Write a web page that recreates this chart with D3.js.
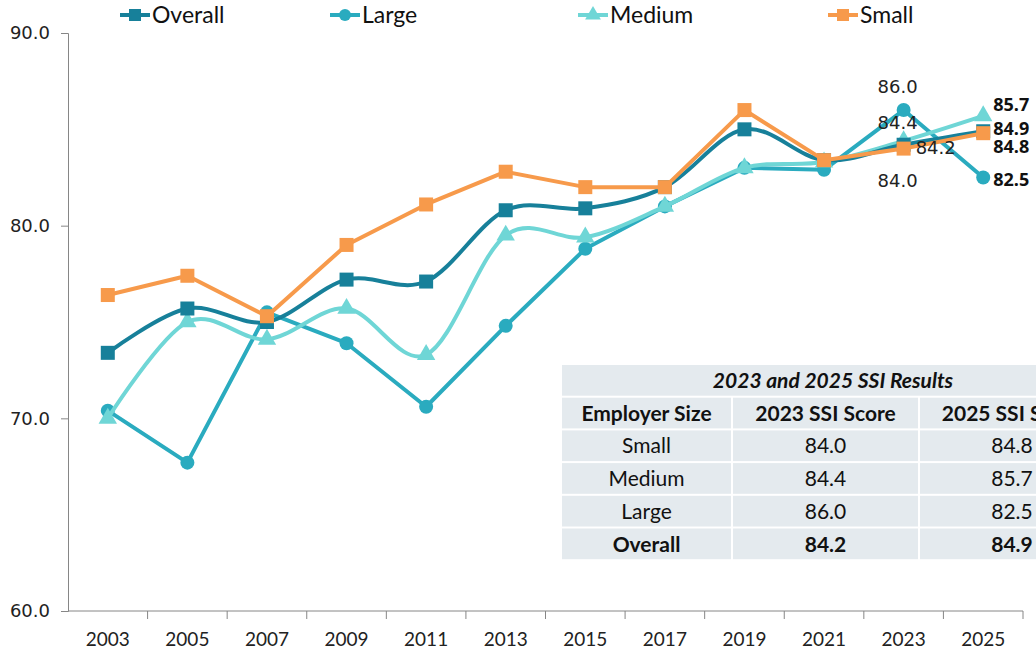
<!DOCTYPE html>
<html>
<head>
<meta charset="utf-8">
<script src="https://cdn.jsdelivr.net/npm/d3@7"></script>
<style>
  body { margin: 0; background: #fff; }
  svg { display: block; }
  .num { font-family: "DejaVu Sans", "Open Sans", sans-serif; }
  .numb { font-family: "Open Sans", "DejaVu Sans", sans-serif; }
  .narrow { font-family: "Lato", "Roboto", sans-serif; }
</style>
</head>
<body>
<svg id="chart" width="1036" height="654"></svg>
<script>
// data
var years = ["2003","2005","2007","2009","2011","2013","2015","2017","2019","2021","2023","2025"];
var overall = [73.4, 75.7, 75.0, 77.2, 77.1, 80.8, 80.9, 82.0, 85.0, 83.4, 84.2, 84.9];
var large   = [70.4, 67.7, 75.5, 73.9, 70.6, 74.8, 78.8, 81.0, 83.0, 82.9, 86.0, 82.5];
var medium  = [70.0, 75.0, 74.1, 75.7, 73.3, 79.5, 79.4, 81.0, 83.0, 83.3, 84.4, 85.7];
var small   = [76.4, 77.4, 75.3, 79.0, 81.1, 82.8, 82.0, 82.0, 86.0, 83.4, 84.0, 84.8];
var yTicks = [60, 70, 80, 90];

var tableTitle = "2023 and 2025 SSI Results";
var tableHead = ["Employer Size", "2023 SSI Score", "2025 SSI Score"];
var tableRows = [["Small","84.0","84.8"],["Medium","84.4","85.7"],["Large","86.0","82.5"],["Overall","84.2","84.9"]];

var series = [
  {name:"Overall", vals:overall, color:"#17809a", shape:"square", smooth:true,
   lab23:[12, 9, "start"], lab25:[10, 4]},
  {name:"Large", vals:large, color:"#2aabbf", shape:"circle", smooth:false,
   lab23:[-6, -17, "middle"], lab25:[10, 8]},
  {name:"Medium", vals:medium, color:"#6fd6d6", shape:"triangle", smooth:true,
   lab23:[-6, -12, "middle"], lab25:[10, -5]},
  {name:"Small", vals:small, color:"#f79a4b", shape:"square", smooth:false,
   lab23:[-6, 38, "middle"], lab25:[10, 20]}
];

var svg = d3.select("#chart");
var plotL = 68, plotR = 1023, plotT = 33, plotB = 611;

var x = d3.scalePoint().domain(years).range([plotL, plotR]).padding(0.5);
var xb = d3.scaleBand().domain(years).range([plotL, plotR]);
var y = d3.scaleLinear().domain([60, 90]).range([plotB, plotT]);

// axes
var yAxis = svg.append("g").attr("transform", "translate(" + plotL + ",0)")
  .call(d3.axisLeft(y).tickValues(yTicks).tickFormat(d3.format(".1f")).tickSizeOuter(0).tickSize(7).tickPadding(11));
yAxis.select(".domain").attr("stroke", "#868686");
yAxis.selectAll(".tick line").attr("stroke", "#868686");
yAxis.selectAll("text").attr("class", "num").attr("font-size", 18).attr("fill", "#222");

var xAxis = svg.append("g").attr("transform", "translate(0," + plotB + ")");
xAxis.append("line").attr("x1", plotL).attr("x2", plotR).attr("stroke", "#868686");
xAxis.selectAll("line.tk").data(years).enter().append("line").attr("class", "tk")
  .attr("x1", function(d){ return xb(d) + xb.bandwidth(); })
  .attr("x2", function(d){ return xb(d) + xb.bandwidth(); })
  .attr("y1", 0).attr("y2", 8).attr("stroke", "#868686");
xAxis.selectAll("text").data(years).enter().append("text")
  .attr("class", "narrow").attr("x", function(d){ return x(d); }).attr("y", 35)
  .attr("text-anchor", "middle").attr("font-size", 19).attr("fill", "#222").text(function(d){ return d; });

// lines and markers
function marker(g, shape, color, size) {
  if (shape === "circle") g.append("circle").attr("r", size / 2).attr("fill", color);
  else if (shape === "square") g.append("rect").attr("x", -size/2).attr("y", -size/2).attr("width", size).attr("height", size).attr("fill", color);
  else g.append("path").attr("d", d3.symbol().type(d3.symbolTriangle).size(size * size * 0.75)()).attr("fill", color);
}

var drawOrder = [1, 2, 0, 3];
drawOrder.forEach(function(k) {
  var s = series[k];
  var line = d3.line()
    .x(function(d, i){ return x(years[i]); })
    .y(function(d){ return y(d); })
    .curve(s.smooth ? d3.curveCatmullRom.alpha(0) : d3.curveLinear);
  svg.append("path").datum(s.vals).attr("d", line)
    .attr("fill", "none").attr("stroke", s.color).attr("stroke-width", 4).attr("stroke-linejoin", "round");
  s.vals.forEach(function(v, i) {
    var g = svg.append("g").attr("transform", "translate(" + x(years[i]) + "," + y(v) + ")");
    marker(g, s.shape, s.color, 14);
  });
});

// value labels for 2023 and 2025
series.forEach(function(s) {
  var v23 = s.vals[10], v25 = s.vals[11];
  svg.append("text").attr("class", "num")
    .attr("x", x("2023") + s.lab23[0]).attr("y", y(v23) + s.lab23[1])
    .attr("text-anchor", s.lab23[2]).attr("font-size", 18).attr("fill", "#222")
    .text(d3.format(".1f")(v23));
  svg.append("text").attr("class", "numb")
    .attr("x", x("2025") + s.lab25[0]).attr("y", y(v25) + s.lab25[1])
    .attr("font-size", 18).attr("font-weight", "bold").attr("fill", "#111")
    .text(d3.format(".1f")(v25));
});

// legend
var legX = [120, 330, 578, 828];
series.forEach(function(s, i) {
  var g = svg.append("g").attr("transform", "translate(" + legX[i] + ",15)");
  g.append("line").attr("x1", 0).attr("x2", 30).attr("stroke", s.color).attr("stroke-width", 4);
  var m = g.append("g").attr("transform", "translate(15,0)");
  marker(m, s.shape, s.color, 12);
  g.append("text").attr("class", "narrow").attr("x", 32).attr("y", 8)
    .attr("font-size", 23).attr("fill", "#111").text(s.name);
});

// table
var tx = 562, ty = 365, rowH = 32.7;
var colX = [562, 733, 920], colW = [169, 185, 184];
var tbl = svg.append("g").attr("class", "narrow");
tbl.append("rect").attr("x", tx).attr("y", ty).attr("width", 1036 - tx).attr("height", rowH - 2).attr("fill", "#e4eaee");
tbl.append("text").attr("x", 833).attr("y", ty + 23)
  .attr("text-anchor", "middle").attr("font-size", 21).attr("font-weight", "bold").attr("font-style", "italic")
  .attr("fill", "#111").text(tableTitle);
var allRows = [tableHead].concat(tableRows);
allRows.forEach(function(r, ri) {
  var ry = ty + rowH * (ri + 1);
  var bold = ri === 0 || r[0] === "Overall";
  r.forEach(function(c, ci) {
    tbl.append("rect").attr("x", colX[ci]).attr("y", ry).attr("width", colW[ci]).attr("height", rowH - 2).attr("fill", "#e4eaee");
    tbl.append("text").attr("x", colX[ci] + colW[ci] / 2).attr("y", ry + 23)
      .attr("text-anchor", "middle").attr("font-size", 21).attr("font-weight", bold ? "bold" : "normal")
      .attr("fill", "#111").text(c);
  });
});
</script>
</body>
</html>
